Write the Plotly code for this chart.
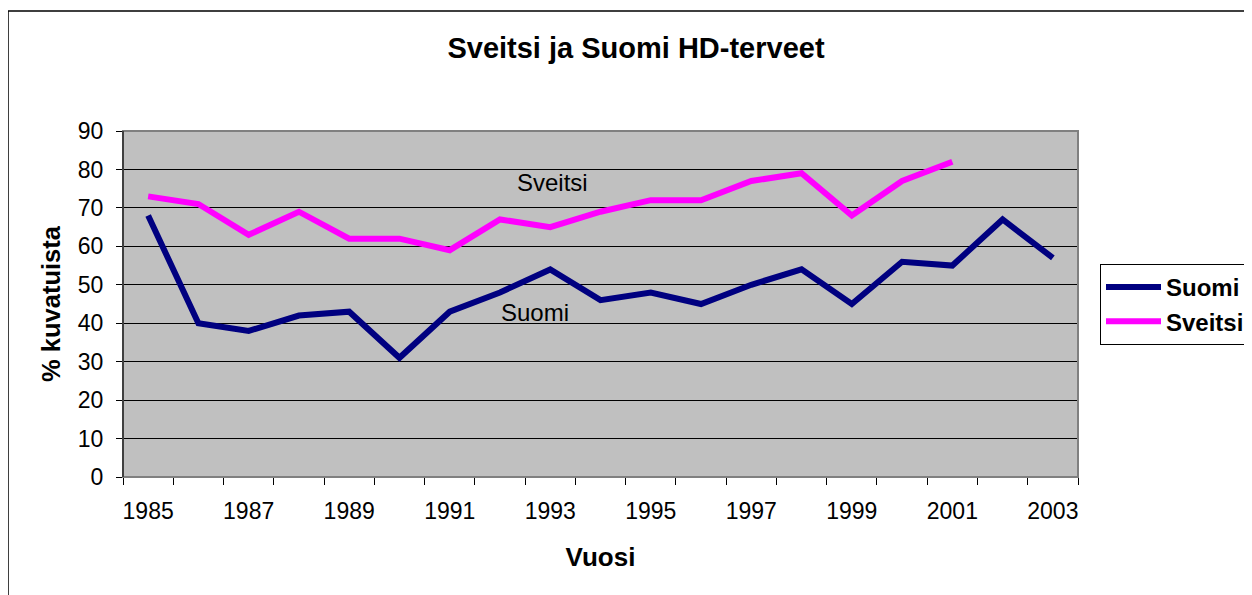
import plotly.graph_objects as go

years = list(range(1985, 2004))
suomi = [68, 40, 38, 42, 43, 31, 43, 48, 54, 46, 48, 45, 50, 54, 45, 56, 55, 67, 57]
sveitsi = [73, 71, 63, 69, 62, 62, 59, 67, 65, 69, 72, 72, 77, 79, 68, 77, 82, None, None]
tick_years = list(range(1985, 2004, 2))
y_ticks = list(range(0, 91, 10))

OFF = 8  # page body margin
W, H = 1252 - OFF, 595 - OFF
L, R, T, B = 123 - OFF, 1078 - OFF, 131 - OFF, 477 - OFF
FONT = "Liberation Sans, Arial, sans-serif"

fig = go.Figure()
fig.add_trace(go.Scatter(x=years, y=suomi, mode="lines", name="Suomi",
                         line=dict(color="#000080", width=6), legendgroup="a"))
fig.add_trace(go.Scatter(x=years, y=sveitsi, mode="lines", name="Sveitsi",
                         line=dict(color="#FF00FF", width=6), legendgroup="b"))

def px(x):
    return (x - OFF - L) / (R - L)

def py(y):
    return (B - (y - OFF)) / (B - T)

fig.update_layout(
    width=W, height=H,
    margin=dict(l=L, r=W - R, t=T, b=H - B, autoexpand=False),
    paper_bgcolor="white", plot_bgcolor="#C0C0C0",
    font=dict(family=FONT, color="black", size=23),
    title=dict(text="<b>Sveitsi ja Suomi HD-terveet</b>", x=(636 - OFF) / W, xanchor="center",
               y=1 - (48 - OFF) / H, yanchor="middle", yref="container",
               font=dict(size=29, family=FONT)),
    showlegend=True,
    legend=dict(x=px(1100), y=py(264), xanchor="left", yanchor="top",
                bordercolor="black", borderwidth=1, bgcolor="white",
                font=dict(size=24, family=FONT, weight="bold"), traceorder="grouped",
                tracegroupgap=0, itemwidth=55),
    xaxis=dict(range=[1984.5, 2003.5], tickmode="array", tickvals=tick_years,
               ticktext=[str(y) for y in tick_years], ticks="", showgrid=False,
               zeroline=False, showline=False, tickfont=dict(size=23),
               ticklabelstandoff=18,
               minor=dict(tickmode="array", tickvals=[y - 0.5 for y in years] + [2003.5],
                          ticks="outside", ticklen=7, tickcolor="black", showgrid=False),
               title=dict(text="<b>Vuosi</b>", font=dict(size=26), standoff=24)),
    yaxis=dict(range=[0, 90], tickmode="array", tickvals=y_ticks, ticks="outside",
               ticklen=6, tickcolor="black", showgrid=True, gridcolor="black",
               gridwidth=1, zeroline=False, showline=True, linecolor="black",
               linewidth=1, tickfont=dict(size=23), ticklabelstandoff=8,
               title=dict(text="<b>% kuvatuista</b>", font=dict(size=25.5), standoff=9)),
    annotations=[
        dict(x=1993.04, y=76.7, xref="x", yref="y", text="Sveitsi", showarrow=False,
             font=dict(size=24, family=FONT)),
        dict(x=1992.7, y=42.9, xref="x", yref="y", text="Suomi", showarrow=False,
             font=dict(size=24, family=FONT)),
    ],
    shapes=[
        dict(type="rect", xref="paper", yref="paper", x0=0, x1=1, y0=0, y1=1,
             line=dict(color="#808080", width=2), layer="above"),
        dict(type="line", xref="paper", yref="paper", x0=0, x1=0, y0=0, y1=1,
             line=dict(color="black", width=1), layer="above"),
        dict(type="rect", xref="paper", yref="paper", x0=px(8), x1=px(1270),
             y0=py(620), y1=py(11), line=dict(color="black", width=1.5), layer="below"),
    ],
)

fig.write_html("out.html")
